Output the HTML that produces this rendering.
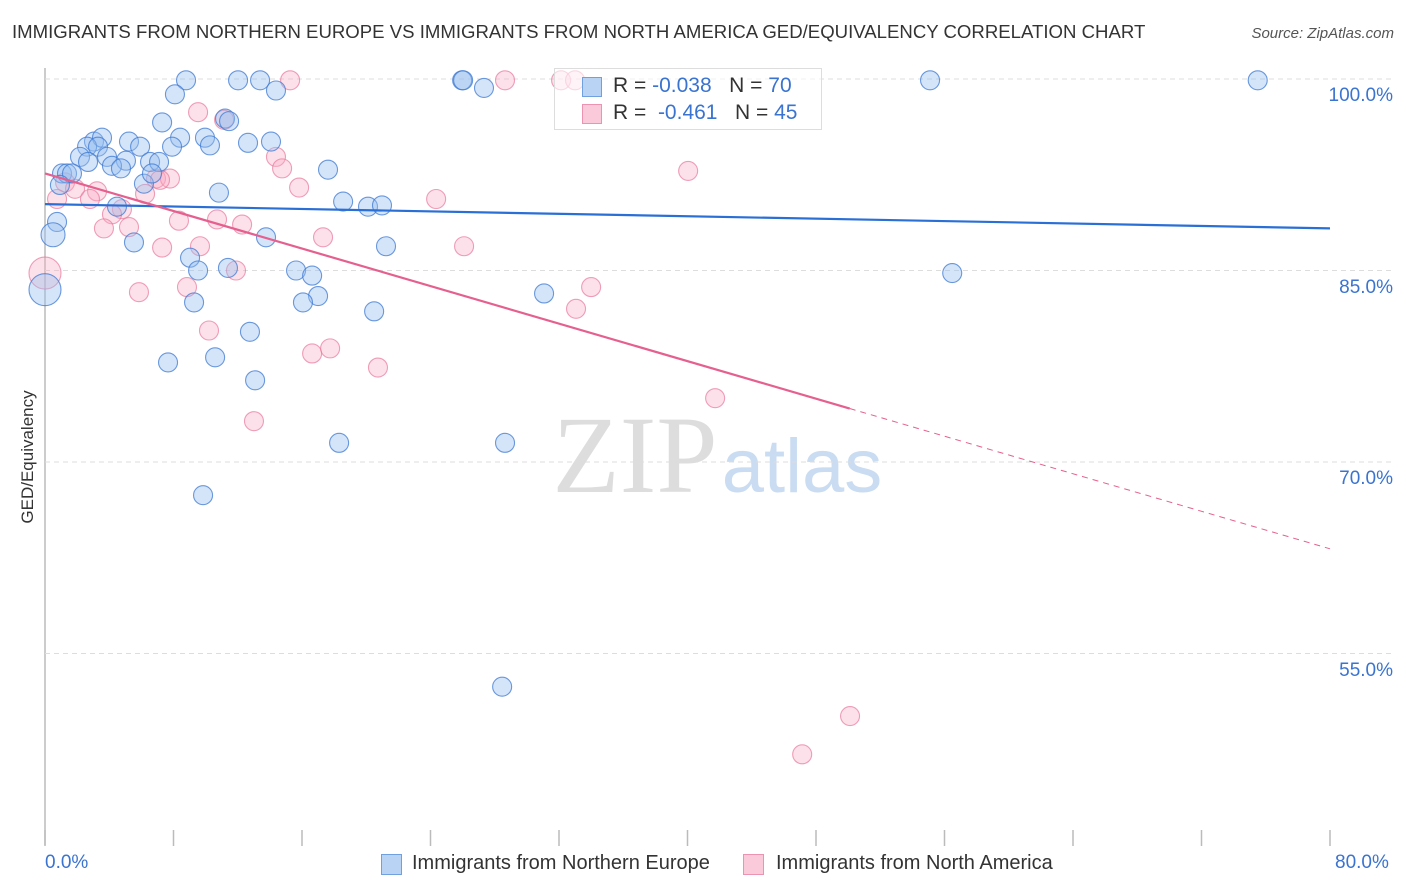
<!DOCTYPE html>
<html><head><meta charset="utf-8"><style>
body{margin:0;background:#fff;font-family:"Liberation Sans",sans-serif;}
#wrap{position:relative;width:1406px;height:892px;overflow:hidden;}
.t{position:absolute;white-space:nowrap;}
</style></head><body>
<div id="wrap">
<div class="t" style="left:12px;top:21px;font-size:18.6px;color:#333;">IMMIGRANTS FROM NORTHERN EUROPE VS IMMIGRANTS FROM NORTH AMERICA GED/EQUIVALENCY CORRELATION CHART</div>
<div class="t" style="right:12px;top:25px;font-size:15px;color:#555;font-style:italic;">Source: ZipAtlas.com</div>
<svg id="plot" width="1406" height="892" style="position:absolute;left:0;top:0">
<text x="635" y="492" font-family="Liberation Serif,serif" font-size="110" fill="#ddd" text-anchor="middle">ZIP</text>
<text x="802" y="492" font-family="Liberation Sans,sans-serif" font-size="76" fill="#c9dcf2" text-anchor="middle">atlas</text>
<g id="grid"></g><g id="pts"></g><g id="trend"></g>
</svg>
<div class="t" style="left:554px;top:68px;width:266px;height:60px;border:1px solid #ddd;background:rgba(255,255,255,0.6);font-size:21px;">
<div style="position:absolute;left:27px;top:8px;width:18px;height:18px;background:#b9d3f5;border:1px solid #6fa0e0"></div>
<div class="t" style="left:58px;top:5px;color:#333">R = <span style="color:#3a74d0">-0.038</span>&nbsp;&nbsp;&nbsp;N = <span style="color:#3a74d0">70</span></div>
<div style="position:absolute;left:27px;top:35px;width:18px;height:18px;background:#fbcada;border:1px solid #eb93b0"></div>
<div class="t" style="left:58px;top:32px;color:#333">R = &nbsp;<span style="color:#3a74d0">-0.461</span>&nbsp;&nbsp;&nbsp;N = <span style="color:#3a74d0">45</span></div>
</div>
<div class="t" style="left:28px;top:457px;font-size:17px;color:#333;transform:translate(-50%,-50%) rotate(-90deg);">GED/Equivalency</div>
<div class="t" style="left:45px;top:852px;font-size:19px;color:#3a74d0;">0.0%</div>
<div class="t" style="left:1335px;top:852px;font-size:19px;color:#3a74d0;">80.0%</div>
<div style="position:absolute;left:381px;top:854px;width:19px;height:19px;background:#b9d3f5;border:1px solid #6fa0e0"></div>
<div class="t" style="left:412px;top:852px;font-size:20px;color:#333;">Immigrants from Northern Europe</div>
<div style="position:absolute;left:743px;top:854px;width:19px;height:19px;background:#fbcada;border:1px solid #eb93b0"></div>
<div class="t" style="left:776px;top:852px;font-size:20px;color:#333;">Immigrants from North America</div>
<div id="ylabels"></div>
</div>
<script>
const yTicks=[100,85,70,55];
const yTickLabels=["100.0%","85.0%","70.0%","55.0%"];
const xTicks=[0,8,16,24,32,40,48,56,64,72,80];
const blueX=[8.78,12.02,13.39,25.97,26.03,55.1,75.5,8.09,14.38,27.33,11.21,7.29,8.41,9.96,3.05,3.55,5.23,14.07,2.62,3.30,5.92,7.91,10.27,12.64,2.18,3.86,5.04,6.54,7.10,2.68,4.17,4.73,1.06,1.37,1.68,17.62,0.93,6.16,6.66,10.83,18.56,20.11,20.98,4.48,0.75,0.50,5.54,13.76,21.23,9.03,9.53,11.39,15.63,16.63,0,17.0,9.28,16.06,20.49,31.07,56.48,12.76,7.66,10.59,13.08,18.31,28.64,9.84,28.46,11.46];
const blueY=[99.9,99.9,99.9,99.9,99.9,99.9,99.9,98.8,99.1,99.3,96.9,96.6,95.4,95.4,95.1,95.4,95.1,95.1,94.7,94.7,94.7,94.7,94.8,95.0,93.9,93.9,93.6,93.5,93.5,93.5,93.2,93.0,92.6,92.6,92.6,92.9,91.7,91.8,92.6,91.1,90.4,90.0,90.1,90.0,88.8,87.8,87.2,87.6,86.9,86.0,85.0,85.2,85.0,84.6,83.5,83.0,82.5,82.5,81.8,83.2,84.8,80.2,77.8,78.2,76.4,71.5,71.5,67.4,52.4,96.7];
const pinkX=[15.26,28.64,32.13,33.0,9.53,11.15,14.38,14.76,40.04,15.82,6.91,7.78,1.25,1.87,3.24,0.75,2.80,6.23,24.35,4.79,4.17,8.34,10.71,12.27,3.67,5.23,17.31,26.09,7.29,9.65,11.89,0,5.85,8.84,34.0,33.06,10.21,16.63,17.75,20.73,41.72,13.01,50.12,47.14,7.16];
const pinkY=[99.9,99.9,99.9,99.9,97.4,96.8,93.9,93.0,92.8,91.5,92.2,92.2,91.9,91.4,91.2,90.6,90.6,91.0,90.6,89.8,89.4,88.9,89.0,88.6,88.3,88.4,87.6,86.9,86.8,86.9,85.0,84.8,83.3,83.7,83.7,82.0,80.3,78.5,78.9,77.4,75.0,73.2,50.1,47.1,92.1];
const blueTrend=[90.2,88.3];
const pinkTrend=[92.6,63.2];
const pinkSolidEnd=50.1;
const NS="http://www.w3.org/2000/svg";
const X=v=>45+v*(1285/80);
const Y=v=>79+(100-v)*(191.5/15);
function mk(tag,attrs,parent){const e=document.createElementNS(NS,tag);for(const k in attrs)e.setAttribute(k,attrs[k]);parent.appendChild(e);return e;}
const grid=document.getElementById('grid');
let ax=mk('line',{x1:45,y1:68,x2:45,y2:845,stroke:'#bbb','stroke-width':1.5},grid);


yTicks.forEach((t,i)=>{
 const l=mk('line',{x1:45,x2:1395,y1:Y(t),y2:Y(t),stroke:'#ddd','stroke-dasharray':'5,4'},grid);
 
 
 const d=document.createElement('div');d.className='t';
 d.style.cssText='right:13px;top:'+(Y(t)+6)+'px;font-size:19px;color:#3a74d0;';
 d.textContent=yTickLabels[i];
 
 
 document.getElementById('ylabels').appendChild(d);
});
xTicks.forEach(t=>{
 const l=mk('line',{x1:X(t),x2:X(t),y1:830,y2:846,stroke:'#bbb','stroke-width':1.5},grid);
 
 
});
const pts=document.getElementById('pts');
function drawPts(xs,ys,fill,stroke,name){
 xs.forEach((x,i)=>{
  const r=(x===0)?16:(x<0.6?12:9.5);
  const c=mk('circle',{cx:X(x),cy:Y(ys[i]),r:r,fill:fill,stroke:stroke,'stroke-width':1.1},pts);
  
  
 });
}
drawPts(pinkX,pinkY,'rgba(248,170,195,0.35)','rgba(232,120,155,0.7)','pink-point');
drawPts(blueX,blueY,'rgba(150,190,240,0.4)','rgba(60,120,210,0.75)','blue-point');
const tr=document.getElementById('trend');
let b=mk('line',{x1:X(0),y1:Y(blueTrend[0]),x2:X(80),y2:Y(blueTrend[1]),stroke:'#2a6fd6','stroke-width':2.2},tr);


const py=x=>pinkTrend[0]+(pinkTrend[1]-pinkTrend[0])*x/80;
let p=mk('line',{x1:X(0),y1:Y(py(0)),x2:X(pinkSolidEnd),y2:Y(py(pinkSolidEnd)),stroke:'#e5608f','stroke-width':2.2},tr);


let pd=mk('line',{x1:X(pinkSolidEnd),y1:Y(py(pinkSolidEnd)),x2:X(80),y2:Y(py(80)),stroke:'#e5608f','stroke-width':1,'stroke-dasharray':'6,5'},tr);


</script>
</body></html>
